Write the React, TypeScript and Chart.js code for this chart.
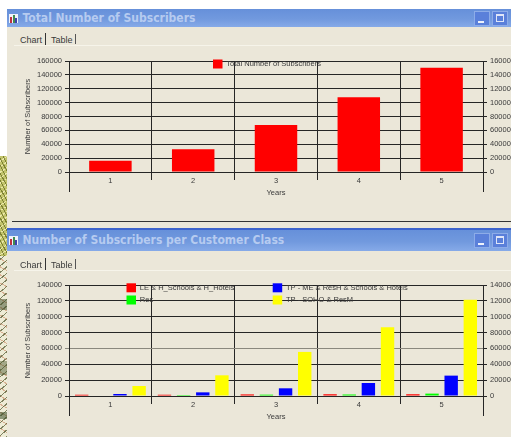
import React, { useEffect, useRef } from "react";
import { Chart, registerables } from "chart.js";

Chart.register(...registerables);

const years = ["1", "2", "3", "4", "5"];
const totalSubscribers = [16300, 32700, 67700, 107700, 150400];
const leHSchoolsHotels = [1600, 1600, 2000, 2200, 2200];
const residential = [0, 1200, 1700, 1900, 3000];
const tpMeResH = [2500, 4600, 9700, 16400, 25700];
const tpSohoResM = [12600, 26100, 55600, 86700, 121300];

const FONT = "'Liberation Sans', Arial, sans-serif";
const INK = "#262626";
const TEXT = "#3a3a3a";

const chartDecor = {
  id: "chartDecor",
  afterDraw(chart: any, _a: any, opts: any) {
    const { ctx, chartArea: ca } = chart;
    ctx.save();
    // outer axes run past the zero line
    ctx.strokeStyle = INK;
    ctx.lineWidth = 1;
    [Math.floor(ca.left) + 0.5, Math.floor(ca.right) + 0.5].forEach((x) => {
      ctx.beginPath();
      ctx.moveTo(x, ca.bottom);
      ctx.lineTo(x, ca.bottom + 20);
      ctx.stroke();
    });
    // legend overlaid on the plot
    ctx.font = `7.5px ${FONT}`;
    ctx.textBaseline = "middle";
    chart.data.datasets.forEach((ds: any, i: number) => {
      const p = opts.items[i];
      ctx.fillStyle = ds.backgroundColor;
      ctx.fillRect(p.x, p.y, 9.5, 9);
      ctx.fillStyle = TEXT;
      ctx.fillText(ds.label, p.x + 13.3, p.y + 4.5);
    });
    ctx.restore();
  },
};

function makeOptions(max: number, topPad: number, xHeight: number, yearsPad: number, items: any[], barPct: number, catPct: number) {
  const yBase = (width: number) => ({
    min: 0,
    max,
    afterFit: (s: any) => {
      s.width = width;
    },
    ticks: {
      stepSize: 20000,
      padding: 3,
      color: TEXT,
      font: { family: FONT, size: 7.5 },
      callback: (v: any) => String(v),
    },
  });
  return {
    responsive: false,
    animation: false as const,
    layout: { padding: { top: topPad, left: 0, right: 0, bottom: 0 } },
    datasets: { bar: { barPercentage: barPct, categoryPercentage: catPct } },
    plugins: {
      legend: { display: false },
      title: { display: false },
      tooltip: { enabled: false },
      chartDecor: { items },
    },
    scales: {
      x: {
        afterFit: (s: any) => {
          s.height = xHeight;
        },
        grid: { color: INK, tickLength: 8, lineWidth: 1 },
        border: { color: INK },
        ticks: { padding: -3.5, color: TEXT, maxRotation: 0, font: { family: FONT, size: 7.5 } },
        title: {
          display: true,
          text: "Years",
          color: TEXT,
          font: { family: FONT, size: 7.5 },
          padding: { top: 0, bottom: yearsPad - 0.5 },
        },
      },
      y: {
        ...yBase(69),
        position: "left" as const,
        grid: {
          color: (c: any) => (c.tick && c.tick.value === 60000 && max === 140000 ? "#8a887e" : INK),
          tickLength: 4,
        },
        border: { color: INK },
        title: {
          display: true,
          text: "Number of Subscribers",
          color: TEXT,
          font: { family: FONT, size: 7.4 },
          padding: { top: 24, bottom: 0 },
        },
      },
      yRight: {
        ...yBase(57),
        position: "right" as const,
        grid: { drawOnChartArea: false, color: INK, tickLength: 4 },
        border: { color: INK },
      },
    },
  };
}

const TitleBar = ({ top, height, text }: { top: number; height: number; text: string }) => (
  <div
    style={{
      position: "absolute",
      left: 7,
      right: 0,
      top,
      height,
      background: "linear-gradient(180deg,#6690da 0%,#7199de 55%,#86aae8 100%)",
    }}
  >
    <div style={{ position: "absolute", left: 2, top: height / 2 - 4.5, width: 9, height: 9, background: "#f0f2fa" }}>
      <span style={{ position: "absolute", left: 1, bottom: 0, width: 2, height: 6, background: "#c03040" }} />
      <span style={{ position: "absolute", left: 3.5, bottom: 0, width: 2, height: 8, background: "#3f8a50" }} />
      <span style={{ position: "absolute", left: 6, bottom: 0, width: 2, height: 5, background: "#4040a8" }} />
    </div>
    <div
      style={{
        position: "absolute",
        left: 15.5,
        top: 0,
        color: "#b6cbf0",
        font: `bold 12px 'DejaVu Sans Condensed', 'DejaVu Sans', sans-serif`,
        lineHeight: `${height}px`,
        whiteSpace: "nowrap",
      }}
    >
      {text}
    </div>
    {[467, 485].map((x, i) => (
      <div
        key={x}
        style={{
          position: "absolute",
          left: x,
          top: height / 2 - 7.5,
          width: 16,
          height: 15,
          background: "#5a80da",
          boxSizing: "border-box",
          border: "1px solid #8dace8",
        }}
      >
        {i === 0 ? (
          <span style={{ position: "absolute", left: 3, bottom: 2, width: 6, height: 2, background: "#eef2fb" }} />
        ) : (
          <span style={{ position: "absolute", left: 3, top: 2, width: 8, height: 8, boxSizing: "border-box", border: "1px solid #dfe6f8", borderTopWidth: 2 }} />
        )}
      </div>
    ))}
  </div>
);

const Tabs = ({ top }: { top: number }) => (
  <>
    {[
      { x: 20, t: "Chart" },
      { x: 51, t: "Table" },
    ].map((o) => (
      <div
        key={o.x}
        style={{ position: "absolute", left: o.x, top: top + 1, font: `9px ${FONT}`, lineHeight: "12px", color: "#3a3a3a" }}
      >
        {o.t}
      </div>
    ))}
    <div style={{ position: "absolute", left: 45, top, width: 1, height: 12, background: "#333" }} />
    <div style={{ position: "absolute", left: 75, top: top + 1, width: 1, height: 10, background: "#555" }} />
    <div style={{ position: "absolute", left: 14, right: 0, top: top + 12, height: 1, background: "#f6f4ea" }} />
  </>
);

export default function App() {
  const a = useRef<HTMLCanvasElement>(null);
  const b = useRef<HTMLCanvasElement>(null);

  useEffect(() => {
    const c1 = new Chart(a.current!, {
      type: "bar",
      data: {
        labels: years,
        datasets: [{ label: "Total Number of Subscribers", data: totalSubscribers, backgroundColor: "#ff0000", yAxisID: "y" }],
      },
      options: makeOptions(160000, 21, 38, 13.5, [{ x: 213, y: 19.5 }], 0.513, 1) as any,
      plugins: [chartDecor],
    });
    const c2 = new Chart(b.current!, {
      type: "bar",
      data: {
        labels: years,
        datasets: [
          { label: "LE & H_Schools & H_Hotels", data: leHSchoolsHotels, backgroundColor: "#ff0000", yAxisID: "y" },
          { label: "Res", data: residential, backgroundColor: "#00ff00", yAxisID: "y" },
          { label: "TP - ME & ResH & Schools & Hotels", data: tpMeResH, backgroundColor: "#0000ff", yAxisID: "y" },
          { label: "TP - SOHO & ResM", data: tpSohoResM, backgroundColor: "#ffff00", yAxisID: "y" },
        ],
      },
      options: makeOptions(140000, 25, 34, 9.5, [
        { x: 126.5, y: 23.3 },
        { x: 126.5, y: 35.5 },
        { x: 272.7, y: 23.3 },
        { x: 272.7, y: 35.5 },
      ], 0.7, 0.925) as any,
      plugins: [chartDecor],
    });
    return () => {
      c1.destroy();
      c2.destroy();
    };
  }, []);

  const stripTop =
    "repeating-linear-gradient(62deg,rgba(95,100,25,.7) 0 1px,transparent 1px 3.5px)," +
    "repeating-linear-gradient(-35deg,rgba(250,245,190,.75) 0 1px,transparent 1px 4.5px)";
  const stripBottom =
    "linear-gradient(180deg,transparent 0 24%,rgba(60,75,40,.5) 24% 30%,transparent 30% 58%,rgba(70,85,40,.45) 58% 66%,transparent 66% 86%,rgba(60,80,40,.55) 86% 90%,transparent 90%)," +
    "repeating-linear-gradient(-40deg,rgba(80,85,45,.7) 0 1px,transparent 1px 5px)," +
    "repeating-linear-gradient(30deg,rgba(190,105,65,.45) 0 1px,transparent 1px 7px)";

  return (
    <div style={{ position: "fixed", left: 0, top: 0, width: 511, height: 437, overflow: "hidden", background: "#fff" }}>
      <div style={{ position: "absolute", inset: 0, filter: "blur(0.4px)" }}>
        <div style={{ position: "absolute", left: 0, top: 156, width: 7, height: 100, backgroundImage: stripTop, backgroundColor: "#c2c46c" }} />
        <div
          style={{
            position: "absolute",
            left: 0,
            top: 256,
            width: 7,
            height: 181,
            backgroundImage: stripBottom,
            backgroundColor: "#eeecd6",
          }}
        />
        <div style={{ position: "absolute", left: 7, right: 0, top: 27, height: 201, background: "#ebe7d9" }} />
        <div style={{ position: "absolute", left: 7, right: 0, top: 251, bottom: 0, background: "#ebe7d9" }} />
        <div style={{ position: "absolute", left: 12, right: 0, top: 221, height: 1, background: "#333" }} />
        <TitleBar top={9} height={18} text="Total Number of Subscribers" />
        <div style={{ position: "absolute", left: 7, right: 0, top: 228, height: 2, background: "#3d63cc" }} />
        <TitleBar top={230} height={21} text="Number of Subscribers per Customer Class" />
        <Tabs top={33} />
        <Tabs top={258} />
        <canvas ref={a} width={540} height={170} style={{ position: "absolute", left: 0, top: 40, width: 540, height: 170 }} />
        <canvas ref={b} width={540} height={170} style={{ position: "absolute", left: 0, top: 260, width: 540, height: 170 }} />
      </div>
    </div>
  );
}
